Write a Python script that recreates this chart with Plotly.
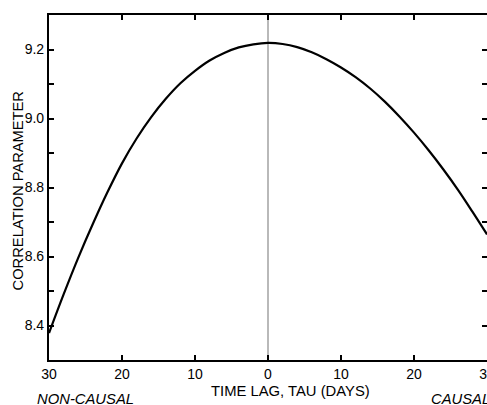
import plotly.graph_objects as go

# Time lag (days), negative = non-causal side
lag_days = [-30, -28, -26, -24, -22, -20, -18, -16, -14, -12, -10, -8, -6, -4, -2,
            0, 2, 4, 6, 8, 10, 12, 14, 16, 18, 20, 22, 24, 26, 28, 30]
correlation = [8.378, 8.490, 8.596, 8.694, 8.786, 8.870, 8.942, 9.004, 9.057, 9.102,
               9.138, 9.168, 9.190, 9.206, 9.215, 9.219, 9.216, 9.207, 9.192, 9.172,
               9.148, 9.120, 9.087, 9.049, 9.006, 8.959, 8.908, 8.853, 8.794, 8.730, 8.664]

x_tickvals = [-30, -20, -10, 0, 10, 20, 30]
x_ticktext = ["30", "20", "10", "0", "10", "20", "30"]
y_tickvals = [8.3, 8.4, 8.5, 8.6, 8.7, 8.8, 8.9, 9.0, 9.1, 9.2, 9.3]
y_ticktext = ["", "8.4", "", "8.6", "", "8.8", "", "9.0", "", "9.2", ""]

FONT = "Liberation Sans, Arial, Helvetica, sans-serif"

fig = go.Figure()
fig.add_trace(go.Scatter(x=lag_days, y=correlation, mode="lines",
                         line=dict(color="black", width=2.2, shape="spline", smoothing=1.0),
                         hoverinfo="skip", showlegend=False))

fig.add_shape(type="line", xref="x", yref="paper", x0=0, x1=0, y0=0, y1=1,
              line=dict(color="#8a8a8a", width=1.2), layer="below")

fig.update_layout(
    template="none",
    width=487, height=405,
    margin=dict(l=49, r=0, t=15, b=45, autoexpand=False),
    paper_bgcolor="white", plot_bgcolor="white",
    font=dict(family=FONT, size=14, color="black"),
    xaxis=dict(range=[-30, 30], tickvals=x_tickvals, ticktext=x_ticktext,
               ticks="inside", ticklen=5, tickwidth=1.5, tickcolor="black",
               showline=True, linewidth=2.2, linecolor="black", mirror="ticks",
               showgrid=False, zeroline=False, tickfont=dict(size=14),
               ticklabeloverflow="allow", automargin=False),
    yaxis=dict(range=[8.3, 9.3], tickvals=y_tickvals, ticktext=y_ticktext,
               ticks="inside", ticklen=5, tickwidth=1.5, tickcolor="black",
               showline=True, linewidth=2.2, linecolor="black", mirror="ticks",
               showgrid=False, zeroline=False, tickfont=dict(size=14),
               automargin=False),
    annotations=[
        dict(text="CORRELATION PARAMETER", xref="paper", yref="paper", x=-0.072, y=0.49,
             xanchor="center", yanchor="middle", textangle=-90, showarrow=False,
             font=dict(size=14.7)),
        dict(text="TIME LAG, TAU (DAYS)", xref="paper", yref="paper",
             x=(290 - 49) / 438, y=-0.089, xanchor="center", yanchor="middle",
             showarrow=False, font=dict(size=14.8)),
        dict(text="<i>NON-CAUSAL</i>", xref="paper", yref="paper", x=-0.031, y=-0.113,
             xanchor="left", yanchor="middle", showarrow=False, font=dict(size=14.8)),
        dict(text="<i>CAUSAL</i>", xref="paper", yref="paper", x=0.867, y=-0.113,
             xanchor="left", yanchor="middle", showarrow=False, font=dict(size=14.8)),
    ],
)

fig.write_html("out.html")
